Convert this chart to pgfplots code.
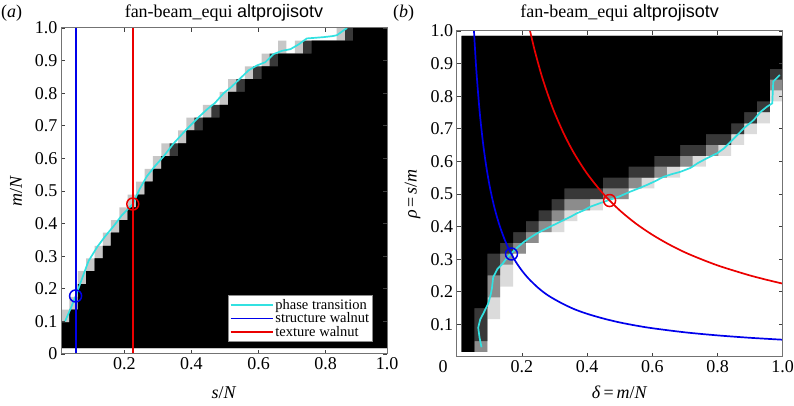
\documentclass[border=0pt]{standalone}
\usepackage{fontspec}
\setmainfont{Liberation Serif}
\newfontfamily\sansf{Liberation Sans}
\usepackage{pgfplots}
\pgfplotsset{compat=1.18}
\definecolor{lineCyan}{RGB}{50,225,225}
\definecolor{lineBlue}{RGB}{0,0,235}
\definecolor{lineRed}{RGB}{235,0,0}
\pgfplotsset{
  common/.style={
    scale only axis, width=326pt, height=326pt, axis on top,
    tick align=inside, major tick length=4pt,
    every tick/.style={black!75, line width=0.8pt},
    axis line style={black!55, line width=1pt},
    tick label style={font=\fontsize{18}{18}\selectfont},
    label style={font=\fontsize{18}{20}\selectfont},
    title style={font=\fontsize{18}{20}\selectfont, anchor=base, at={(0.5,1)}},
  },
  lightc/.style={const plot, fill=black!22, draw=none, forget plot},
  lightb/.style={const plot, fill=black!14, draw=none, forget plot},
  midc/.style={const plot, fill=black!45, draw=none, forget plot},
  darkc/.style={const plot, fill=black!78, draw=none, forget plot},
  blackc/.style={const plot, fill=black, draw=none, forget plot},
}
\begin{document}
\begin{tikzpicture}
\useasboundingbox (0,0) rectangle (794pt,406pt);
% ---------------- panel (a)
\begin{axis}[common, at={(61pt,52pt)}, anchor=south west,
  xmin=0.011, xmax=0.983, ymin=0, ymax=1,
  xtick={0.2,0.4,0.6,0.8,0.983}, xticklabels={0.2,0.4,0.6,0.8,1.0},
  ytick={0,0.1,0.2,0.3,0.4,0.5,0.6,0.7,0.8,0.9,1},
  yticklabels={0,0.1,0.2,0.3,0.4,0.5,0.6,0.7,0.8,0.9,1.0},
  title={fan-beam\_equi {\sansf altprojisotv}}, title style={yshift=4pt},
  xlabel={\textit{s}/\textit{N}}, ylabel={\textit{m}/\textit{N}},
  xlabel style={at={(axis description cs:0.5,-0.135)}, anchor=base},
  ylabel style={at={(axis description cs:-0.138,0.5)}, anchor=center},
  legend style={at={(rel axis cs:0.957,0.038)}, anchor=south east,
    font=\fontsize{14.5}{14}\selectfont, draw=black!45, line width=0.5pt,
    inner sep=1.5pt, row sep=-2pt, cells={anchor=west}},
  legend cell align=left,
]
\addlegendimage{lineCyan, line width=1.8pt, legend image code/.code={\draw[lineCyan, line width=1.8pt] (0pt,0pt) -- (42pt,0pt);}}
\addlegendentry{phase transition}
\addlegendimage{lineBlue, line width=1.8pt, legend image code/.code={\draw[lineBlue, line width=1.8pt] (0pt,0pt) -- (42pt,0pt);}}
\addlegendentry{structure walnut}
\addlegendimage{lineRed, line width=1.8pt, legend image code/.code={\draw[lineRed, line width=1.8pt] (0pt,0pt) -- (42pt,0pt);}}
\addlegendentry{texture walnut}
\addplot[lightc] coordinates {(0.011,0.018) (0.011,0.136) (0.036,0.175) (0.061,0.254) (0.086,0.293) (0.111,0.332) (0.136,0.372) (0.160,0.411) (0.185,0.450) (0.210,0.489) (0.235,0.529) (0.260,0.568) (0.285,0.607) (0.310,0.646) (0.335,0.646) (0.360,0.686) (0.385,0.725) (0.409,0.725) (0.434,0.764) (0.459,0.764) (0.484,0.804) (0.509,0.843) (0.534,0.843) (0.559,0.882) (0.584,0.882) (0.609,0.921) (0.633,0.921) (0.658,0.961) (0.683,0.921) (0.708,0.961) (0.733,0.961) (0.758,0.961) (0.783,0.961) (0.808,0.961) (0.833,1.0) (0.858,1.0) (0.882,1.0) (0.983,1.0) (0.983,0.018)} -- cycle;
\addplot[darkc] coordinates {(0.011,0.018) (0.011,0.097) (0.036,0.136) (0.061,0.214) (0.086,0.254) (0.111,0.293) (0.136,0.332) (0.160,0.372) (0.185,0.411) (0.210,0.450) (0.235,0.489) (0.260,0.529) (0.285,0.568) (0.310,0.607) (0.335,0.646) (0.360,0.646) (0.385,0.686) (0.409,0.725) (0.434,0.725) (0.459,0.764) (0.484,0.764) (0.509,0.804) (0.534,0.843) (0.559,0.843) (0.584,0.882) (0.609,0.882) (0.633,0.921) (0.658,0.921) (0.683,0.921) (0.708,0.921) (0.733,0.961) (0.758,0.961) (0.783,0.961) (0.808,0.961) (0.833,0.961) (0.858,1.0) (0.882,1.0) (0.983,1.0) (0.983,0.018)} -- cycle;
\addplot[blackc] coordinates {(0.011,0.018) (0.011,0.097) (0.036,0.136) (0.061,0.214) (0.086,0.254) (0.111,0.293) (0.136,0.332) (0.160,0.372) (0.185,0.411) (0.210,0.450) (0.235,0.489) (0.260,0.529) (0.285,0.568) (0.310,0.607) (0.335,0.607) (0.360,0.646) (0.385,0.686) (0.409,0.686) (0.434,0.725) (0.459,0.725) (0.484,0.764) (0.509,0.804) (0.534,0.804) (0.559,0.843) (0.584,0.843) (0.609,0.882) (0.633,0.882) (0.658,0.921) (0.683,0.921) (0.708,0.921) (0.733,0.921) (0.758,0.961) (0.783,0.961) (0.808,0.961) (0.833,0.961) (0.858,0.961) (0.882,1.0) (0.983,1.0) (0.983,0.018)} -- cycle;
\addplot[draw=lineCyan, line width=1.7pt, forget plot] coordinates {(0.023,0.10) (0.04,0.14) (0.055,0.178) (0.075,0.235) (0.093,0.285) (0.12,0.33) (0.142,0.36) (0.17,0.395) (0.192,0.425) (0.225,0.46) (0.245,0.505) (0.267,0.545) (0.29,0.575) (0.316,0.605) (0.346,0.645) (0.386,0.69) (0.42,0.725) (0.446,0.75) (0.47,0.77) (0.496,0.80) (0.52,0.82) (0.545,0.845) (0.57,0.87) (0.595,0.885) (0.62,0.895) (0.645,0.92) (0.67,0.93) (0.695,0.935) (0.72,0.95) (0.744,0.968) (0.77,0.97) (0.794,0.972) (0.82,0.975) (0.834,0.978) (0.85,0.99) (0.864,1.0)};
\addplot[draw=lineRed, line width=1.9pt, forget plot] coordinates {(0.225,0) (0.225,0.5) (0.225,1)};
\addplot[draw=lineBlue, line width=1.9pt, forget plot] coordinates {(0.0545,0) (0.0545,0.5) (0.0545,1)};
\addplot[draw=lineBlue, only marks, mark=o, mark size=6pt, mark options={line width=1.5pt}, forget plot] coordinates {(0.0545,0.178)};
\addplot[draw=lineRed, only marks, mark=o, mark size=6pt, mark options={line width=1.5pt}, forget plot] coordinates {(0.225,0.46)};
\end{axis}
% ---------------- panel (b)
\begin{axis}[common, at={(456.7pt,49pt)}, anchor=south west,
  xmin=0, xmax=1, ymin=0, ymax=1,
  xtick={0,0.2,0.4,0.6,0.8,1}, xticklabels={\makebox[0pt][r]{0\hspace{9pt}},0.2,0.4,0.6,0.8,1.0},
  ytick={0.1,0.2,0.3,0.4,0.5,0.6,0.7,0.8,0.9,1},
  yticklabels={0.1,0.2,0.3,0.4,0.5,0.6,0.7,0.8,0.9,1.0},
  title={fan-beam\_equi {\sansf altprojisotv}}, title style={yshift=7pt},
  xlabel={\textit{δ}\,=\,\textit{m}/\textit{N}}, ylabel={\textit{ρ}\,=\,\textit{s}/\textit{m}},
  xlabel style={at={(axis description cs:0.5,-0.126)}, anchor=base},
  ylabel style={at={(axis description cs:-0.135,0.5)}, anchor=center},
]
\addplot[lightb] coordinates {(0.015,0.985) (0.015,0.016) (0.054,0.016) (0.094,0.116) (0.133,0.216) (0.173,0.317) (0.212,0.350) (0.251,0.383) (0.291,0.383) (0.330,0.417) (0.370,0.450) (0.409,0.450) (0.448,0.484) (0.488,0.484) (0.527,0.517) (0.567,0.517) (0.606,0.550) (0.645,0.550) (0.685,0.584) (0.724,0.584) (0.764,0.617) (0.803,0.617) (0.842,0.651) (0.882,0.684) (0.921,0.717) (0.961,0.784) (1.0,0.784) (1.0,0.985)} -- cycle;
\addplot[midc] coordinates {(0.015,0.985) (0.015,0.016) (0.054,0.016) (0.094,0.183) (0.133,0.283) (0.173,0.317) (0.212,0.350) (0.251,0.383) (0.291,0.417) (0.330,0.450) (0.370,0.450) (0.409,0.484) (0.448,0.484) (0.488,0.484) (0.527,0.517) (0.567,0.550) (0.606,0.550) (0.645,0.584) (0.685,0.584) (0.724,0.617) (0.764,0.617) (0.803,0.651) (0.842,0.684) (0.882,0.717) (0.921,0.751) (0.961,0.818) (1.0,0.818) (1.0,0.985)} -- cycle;
\addplot[darkc] coordinates {(0.015,0.985) (0.015,0.016) (0.054,0.049) (0.094,0.250) (0.133,0.317) (0.173,0.350) (0.212,0.383) (0.251,0.417) (0.291,0.450) (0.330,0.484) (0.370,0.484) (0.409,0.484) (0.448,0.517) (0.488,0.517) (0.527,0.550) (0.567,0.550) (0.606,0.584) (0.645,0.584) (0.685,0.617) (0.724,0.617) (0.764,0.651) (0.803,0.651) (0.842,0.684) (0.882,0.717) (0.921,0.751) (0.961,0.851) (1.0,0.851) (1.0,0.985)} -- cycle;
\addplot[blackc] coordinates {(0.015,0.985) (0.015,0.016) (0.054,0.150) (0.094,0.317) (0.133,0.350) (0.173,0.383) (0.212,0.417) (0.251,0.450) (0.291,0.484) (0.330,0.517) (0.370,0.517) (0.409,0.517) (0.448,0.550) (0.488,0.550) (0.527,0.584) (0.567,0.584) (0.606,0.617) (0.645,0.617) (0.685,0.651) (0.724,0.651) (0.764,0.684) (0.803,0.684) (0.842,0.717) (0.882,0.751) (0.921,0.784) (0.961,0.884) (1.0,0.884) (1.0,0.985)} -- cycle;
\addplot[draw=lineCyan, line width=1.7pt] coordinates {(0.076,0.03) (0.070,0.06) (0.066,0.09) (0.072,0.115) (0.082,0.134) (0.097,0.165) (0.104,0.19) (0.108,0.21) (0.112,0.245) (0.125,0.27) (0.14,0.285) (0.155,0.305) (0.167,0.318) (0.185,0.335) (0.205,0.352) (0.225,0.366) (0.246,0.379) (0.267,0.39) (0.287,0.4) (0.308,0.41) (0.328,0.42) (0.349,0.43) (0.369,0.441) (0.39,0.45) (0.41,0.461) (0.44,0.472) (0.469,0.482) (0.5,0.493) (0.532,0.507) (0.56,0.518) (0.584,0.528) (0.61,0.54) (0.635,0.553) (0.66,0.561) (0.686,0.568) (0.717,0.58) (0.74,0.595) (0.768,0.61) (0.799,0.625) (0.82,0.64) (0.84,0.66) (0.86,0.68) (0.881,0.702) (0.911,0.727) (0.932,0.752) (0.952,0.768) (0.968,0.778) (0.971,0.845) (0.991,0.865)};
\addplot[draw=lineBlue, line width=1.7pt, smooth] coordinates {(0.053,1.0) (0.06,0.883) (0.07,0.757) (0.08,0.6625) (0.09,0.589) (0.10,0.53) (0.11,0.482) (0.12,0.442) (0.13,0.408) (0.14,0.379) (0.15,0.353) (0.16,0.331) (0.18,0.294) (0.20,0.265) (0.22,0.241) (0.25,0.212) (0.28,0.189) (0.32,0.166) (0.36,0.147) (0.40,0.1325) (0.45,0.118) (0.5,0.106) (0.55,0.0964) (0.6,0.0883) (0.7,0.0757) (0.8,0.0663) (0.9,0.0589) (1.0,0.053)};
\addplot[draw=lineRed, line width=1.7pt, smooth] coordinates {(0.225,1.0) (0.24,0.9375) (0.26,0.865) (0.28,0.804) (0.30,0.75) (0.33,0.682) (0.36,0.625) (0.40,0.5625) (0.45,0.5) (0.5,0.45) (0.55,0.409) (0.6,0.375) (0.65,0.346) (0.7,0.321) (0.75,0.3) (0.8,0.281) (0.85,0.265) (0.9,0.25) (0.95,0.237) (1.0,0.225)};
\addplot[draw=lineBlue, only marks, mark=o, mark size=6pt, mark options={line width=1.5pt}] coordinates {(0.168,0.316)};
\addplot[draw=lineRed, only marks, mark=o, mark size=6pt, mark options={line width=1.5pt}] coordinates {(0.469,0.48)};
\end{axis}
\node[anchor=base west, inner sep=0, font=\fontsize{18}{20}\selectfont] at (1pt,388pt) {(\textit{a})};
\node[anchor=base west, inner sep=0, font=\fontsize{18}{20}\selectfont] at (393pt,388pt) {(\textit{b})};
\end{tikzpicture}
\end{document}
